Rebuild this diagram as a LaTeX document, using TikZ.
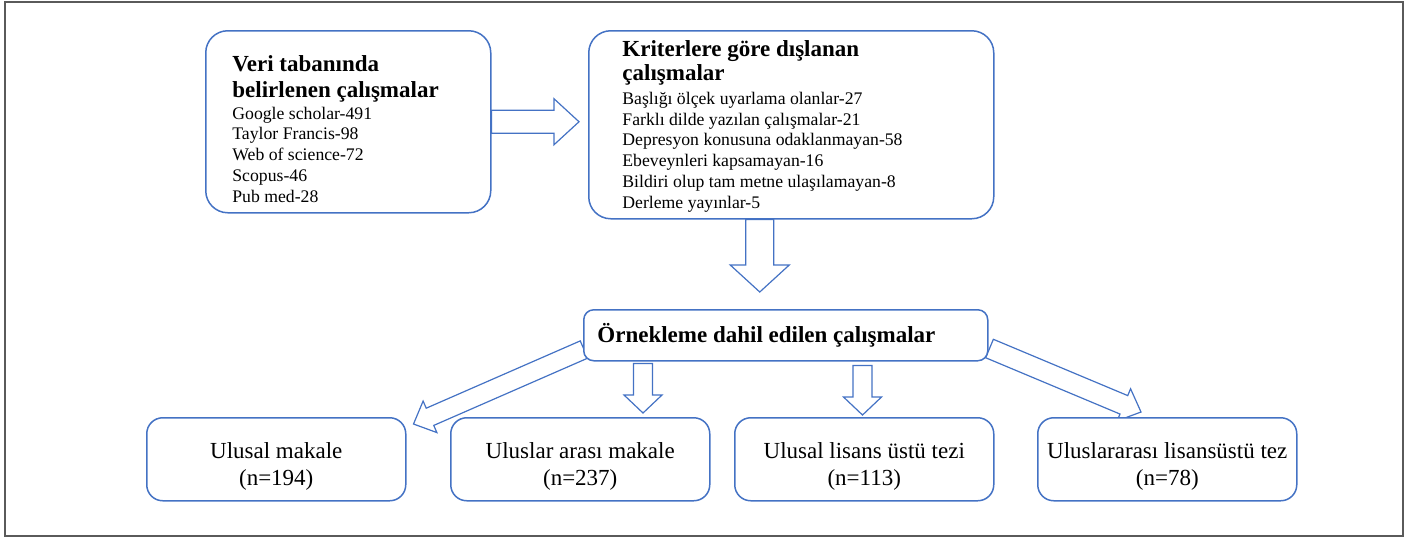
\documentclass[tikz,border=0pt]{standalone}
\usepackage{fontspec}
\setmainfont{Liberation Serif}
\usetikzlibrary{calc,backgrounds}

\definecolor{boxblue}{RGB}{68,114,196}
\definecolor{framegray}{RGB}{90,90,90}

\tikzset{
  box/.style={draw=boxblue, line width=0.75pt, fill=white, rounded corners=11pt, inner sep=0pt},
  flowbox/.style={box, minimum width=129.5pt, minimum height=41.5pt, rounded corners=8pt},
  blockarr/.style={draw=boxblue, line width=0.6pt, fill=white},
  headtext/.style={inner sep=0pt, align=left, font=\fontsize{11.5}{13}\selectfont\bfseries},
  listtext/.style={inner sep=0pt, align=left, font=\fontsize{8.85}{10.35}\selectfont},
  counttext/.style={inner sep=0pt, align=center, font=\fontsize{11.5}{13.5}\selectfont},
}

% block arrow: start, tip, half shaft, half head, head length
\newcommand{\blockarrow}[5]{%
  \coordinate (hb) at ($(#2)!#5!(#1)$);
  \draw[blockarr] ($(#1)!#3!90:(#2)$) -- ($(hb)!#3!90:(#2)$) -- ($(hb)!#4!90:(#2)$) -- (#2)
    -- ($(hb)!#4!-90:(#2)$) -- ($(hb)!#3!-90:(#2)$) -- ($(#1)!#3!-90:(#2)$) -- cycle;
}

\begin{document}
\begin{tikzpicture}[x=0.5pt, y=-0.5pt]
  \useasboundingbox (0,0) rectangle (1407,538);
  \draw[framegray, line width=1pt] (5,1.5) rectangle (1403,536);

  % boxes
  \node[box, minimum width=142.5pt, minimum height=91pt, anchor=north west] (veri) at (205,30) {};
  \node[box, minimum width=202.5pt, minimum height=94pt, anchor=north west] (kriter) at (588,30) {};
  \node[box, rounded corners=5pt, minimum width=202pt, minimum height=25.5pt, anchor=north west] (ornek) at (583,309) {};
  \node[flowbox, anchor=north west] (umakale) at (146,417) {};
  \node[flowbox, anchor=north west] (imakale) at (450,417) {};
  \node[flowbox, anchor=north west] (utez) at (734,417) {};
  \node[flowbox, anchor=north west] (itez) at (1037,417) {};

  % texts (base = last line)
  \node[headtext, anchor=base west] (veribaslik) at ([xshift=13.5pt, yshift=-33.5pt]veri.north west) {Veri tabanında\\belirlenen çalışmalar};
  \node[listtext, anchor=base west] (veriliste) at ([xshift=13.5pt, yshift=-86pt]veri.north west) {Google scholar-491\\Taylor Francis-98\\Web of science-72\\Scopus-46\\Pub med-28};
  \node[headtext, font=\fontsize{11.5}{11.6}\selectfont\bfseries, anchor=base west] (kriterbaslik) at ([xshift=17pt, yshift=-25pt]kriter.north west) {Kriterlere göre dışlanan\\çalışmalar};
  \node[listtext, anchor=base west] (kriterliste) at ([xshift=17pt, yshift=-89pt]kriter.north west) {Başlığı ölçek uyarlama olanlar-27\\Farklı dilde yazılan çalışmalar-21\\Depresyon konusuna odaklanmayan-58\\Ebeveynleri kapsamayan-16\\Bildiri olup tam metne ulaşılamayan-8\\Derleme yayınlar-5};
  \node[headtext, anchor=base west] (ornekbaslik) at ([xshift=7pt, yshift=-16.5pt]ornek.north west) {Örnekleme dahil edilen çalışmalar};
  \node[counttext, anchor=base] (umakaletxt) at ([yshift=-34pt]umakale.north) {Ulusal makale\\(n=194)};
  \node[counttext, anchor=base] (imakaletxt) at ([yshift=-34pt]imakale.north) {Uluslar arası makale\\(n=237)};
  \node[counttext, anchor=base] (uteztxt) at ([yshift=-34pt]utez.north) {Ulusal lisans üstü tezi\\(n=113)};
  \node[counttext, anchor=base] (iteztxt) at ([yshift=-34pt]itez.north) {Uluslararası lisansüstü tez\\(n=78)};

  % arrows behind the boxes
  \begin{scope}[on background layer]
    \coordinate (a1t) at ($(kriter.west |- veri.east)+(-9,0)$);
    \blockarrow{veri.east}{a1t}{5.75pt}{11.5pt}{12.5pt}
    \coordinate (a2s) at ($(kriter.south)+(-31.5,0)$);
    \coordinate (a2t) at ($(a2s |- ornek.north)+(0,-17)$);
    \blockarrow{a2s}{a2t}{7pt}{14.75pt}{13.5pt}
    \coordinate (a3s) at ($(ornek.south west)+(1,-12)$);
    \coordinate (a3t) at ($(umakale.north east)+(7,7)$);
    \blockarrow{a3s}{a3t}{4.7pt}{8.6pt}{9pt}
    \coordinate (a4s) at ($(ornek.south west)+(60,2)$);
    \coordinate (a4t) at ($(a4s |- imakale.north)+(0,-4)$);
    \blockarrow{a4s}{a4t}{4.75pt}{9.5pt}{9pt}
    \coordinate (a5s) at ($(ornek.south west)+(279.5,4)$);
    \coordinate (a5t) at ($(a5s |- utez.north)+(0,-2)$);
    \blockarrow{a5s}{a5t}{4.75pt}{9.5pt}{9pt}
    \coordinate (a6s) at ($(ornek.south east)+(1,-13)$);
    \coordinate (a6t) at ($(itez.north west)+(104,-5)$);
    \blockarrow{a6s}{a6t}{5pt}{8.7pt}{9.3pt}
  \end{scope}
\end{tikzpicture}
\end{document}
